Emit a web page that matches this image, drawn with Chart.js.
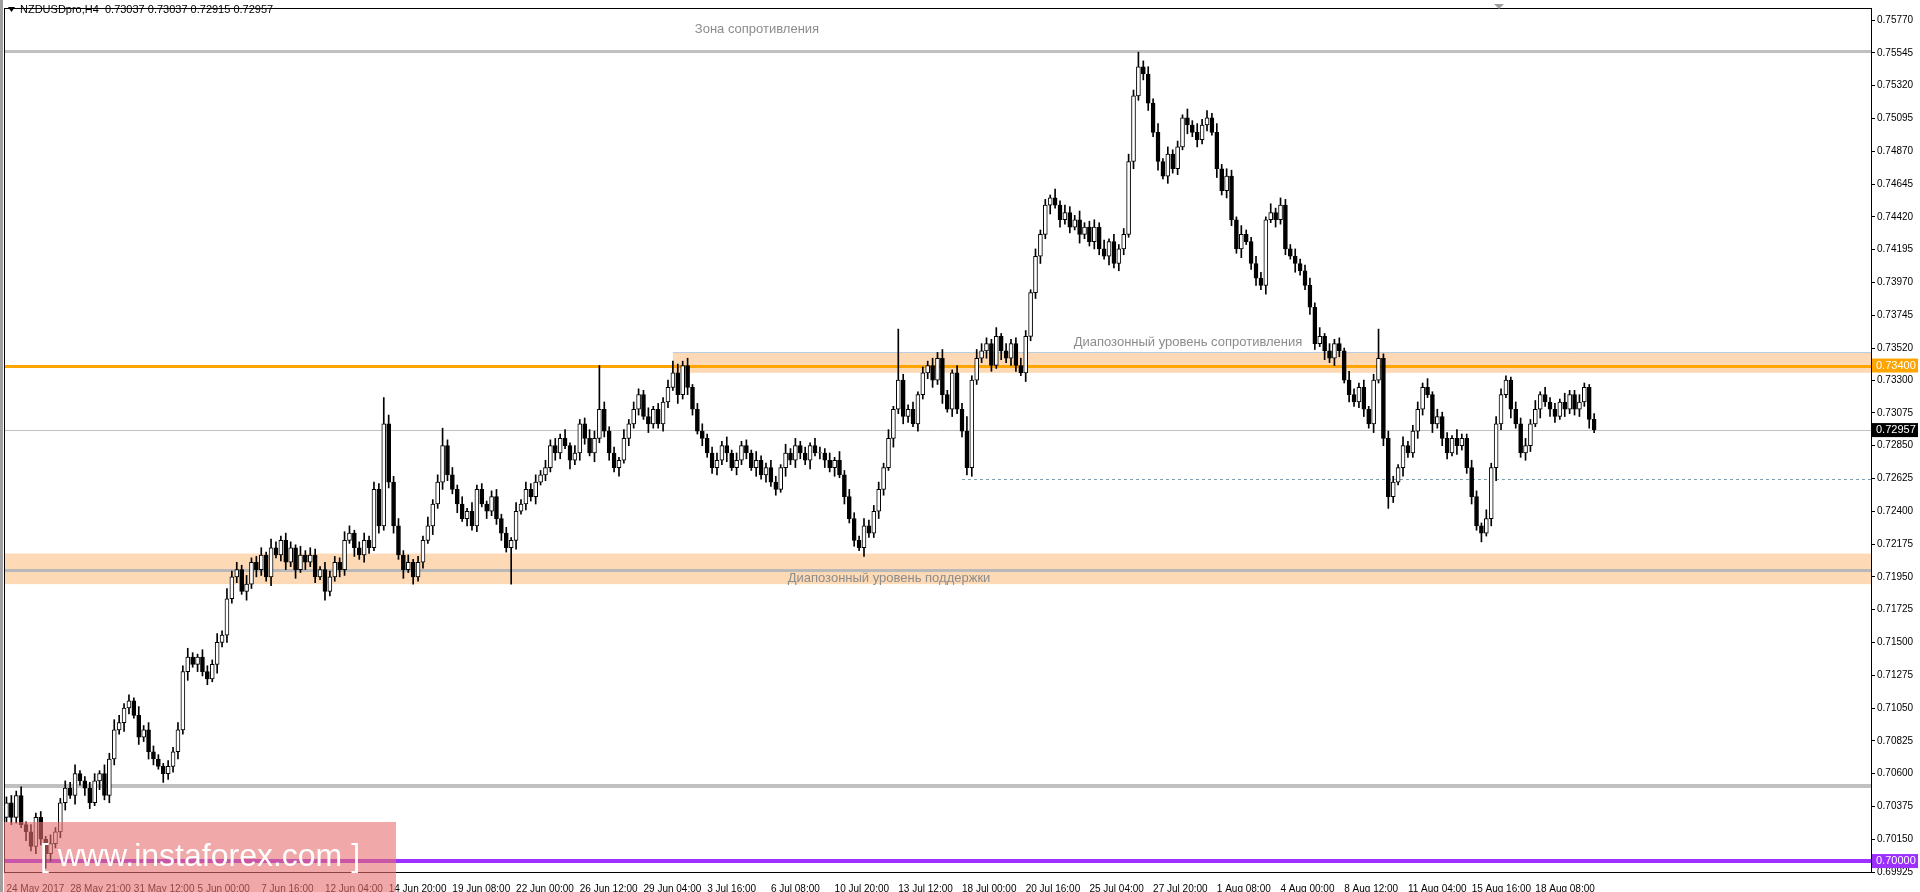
<!DOCTYPE html>
<html>
<head>
<script src="https://cdn.jsdelivr.net/npm/chart.js"></script>
<style> body { margin: 0; background: #fff; } #wrap { width: 1920px; height: 892px; } </style>
</head>
<body>
<div id="wrap"><canvas id="c"></canvas></div>
<script>
// closes in pips (0.0001), opens = previous close
const closes = [
  7040,7030,7045,7025,7020,7010,7030,7015,7005,7012,7020,
  7040,7050,7045,7060,7055,7050,7040,7055,7060,7045,7070,7090,
  7095,7105,7110,7100,7085,7090,7075,7070,7065,7060,7065,
  7075,7090,7130,7140,7135,7140,7130,7125,7135,7150,7155,
  7180,7195,7200,7185,7190,7205,7200,7210,7195,7215,7210,
  7220,7205,7215,7200,7210,7205,7210,7195,7200,7185,7195,
  7205,7200,7220,7225,7215,7210,7220,7215,7255,7230,7300,
  7260,7230,7210,7200,7205,7195,7205,7220,7230,7245,7260,
  7285,7265,7255,7245,7235,7240,7230,7255,7245,7240,7250,
  7235,7225,7215,7220,7240,7245,7255,7250,7260,7265,7270,
  7285,7280,7290,7285,7275,7280,7300,7290,7280,7290,7310,
  7295,7280,7270,7275,7290,7300,7310,7320,7305,7300,7310,
  7300,7315,7325,7335,7320,7340,7325,7310,7295,7290,7280,
  7270,7275,7285,7280,7270,7275,7285,7280,7270,7275,7265,
  7270,7260,7255,7270,7280,7275,7285,7280,7275,7285,7280,
  7280,7275,7270,7275,7265,7250,7235,7220,7215,7230,7225,
  7240,7255,7270,7290,7310,7330,7305,7310,7300,7320,7335,
  7340,7330,7345,7320,7310,7335,7310,7295,7270,7330,7345,
  7350,7355,7340,7360,7350,7345,7355,7340,7335,7360,7390,
  7415,7430,7450,7455,7450,7440,7445,7435,7440,7430,7435,
  7425,7435,7420,7415,7425,7410,7420,7430,7480,7525,7545,
  7540,7520,7500,7480,7470,7485,7475,7490,7510,7505,7500,
  7495,7505,7510,7500,7475,7460,7470,7440,7420,7430,7425,
  7410,7400,7395,7440,7445,7440,7450,7420,7415,7410,7405,
  7395,7380,7355,7360,7350,7345,7355,7350,7330,7320,7315,
  7325,7310,7300,7330,7345,7290,7250,7260,7270,7285,7280,
  7295,7310,7325,7320,7300,7305,7290,7280,7290,7285,7290,
  7270,7250,7230,7225,7235,7270,7300,7320,7330,7310,7300,
  7280,7285,7300,7310,7320,7315,7310,7305,7315,7310,7320,
  7310,7315,7325,7303,7296
];
const firstOpen = 7030;
// wick lengths in pips, base36 chars per candle
const upperWicks = ("45362534263 354623452647 53426354324 35463254363 74536345264 35426354254 4365245354i 64535243635 " +
  "c4535263424 53426354535 4536253465u 53426354362 43586352453 45362534263 35426353425 43526354354 45362z43524 " +
  "35463254a36 54362534542 53426354363 4536253454a 45362534263 64536354263 35426354353 45362534264 3524k354263 " +
  "45362534263 35426354325 45362534263 35324").replace(/ /g, "");
const lowerWicks = ("35426354a53 452635426354 36425354264 45362534263 53426354362 45362534263 35426354253 45362534263 " +
  "54362534253 453p6243524 35426354263 45362534263 35426354253 45362534263 53426354362 45362534263 35426354253 " +
  "45362534563 35426354263 45362534263 35426354253 45362534263 53426354362 45362534263 35426354253 45362584263 " +
  "35426354263 45362594263 35426354253 45362").replace(/ /g, "");
const dateLabels = ["24 May 2017","28 May 21:00","31 May 12:00","5 Jun 00:00","7 Jun 16:00","12 Jun 04:00",
  "14 Jun 20:00","19 Jun 08:00","22 Jun 00:00","26 Jun 12:00","29 Jun 04:00","3 Jul 16:00","6 Jul 08:00",
  "10 Jul 20:00","13 Jul 12:00","18 Jul 00:00","20 Jul 16:00","25 Jul 04:00","27 Jul 20:00","1 Aug 08:00",
  "4 Aug 00:00","8 Aug 12:00","11 Aug 04:00","15 Aug 16:00","18 Aug 08:00"];
const priceTicks = [0.69925,0.70150,0.70375,0.70600,0.70825,0.71050,0.71275,0.71500,0.71725,0.71950,0.72175,
  0.72400,0.72625,0.72850,0.73075,0.73300,0.73520,0.73745,0.73970,0.74195,0.74420,0.74645,0.74870,0.75095,
  0.75320,0.75545,0.75770];
const levels = { resistanceZone: 0.75555, rangeRes: 0.73400, rangeResTop: 0.73490, rangeResBot: 0.73350,
  supportLine: 0.72000, supportTop: 0.72110, supportBot: 0.71900, lowLine: 0.70515, round: 0.70000,
  current: 0.72957, dashed: 0.72620 };
const bandStart = 136, dashStart = 195;

const totalSlots = 381, labelStep = 13;
const labels = [], wicks = [], bodies = [], bodyColors = [];
for (let i = 0; i < totalSlots; i++) {
  const k = Math.floor(i / labelStep);
  labels.push(i % labelStep === 0 && k < dateLabels.length ? dateLabels[k] : "");
  if (i < closes.length) {
    const o = i === 0 ? firstOpen : closes[i - 1], c = closes[i];
    const top = Math.max(o, c), bot = Math.min(o, c);
    const hi = top + parseInt(upperWicks[i], 36), lo = bot - parseInt(lowerWicks[i], 36);
    wicks.push([lo / 10000, hi / 10000]);
    bodies.push([bot / 10000, Math.max(top, bot + 0.25) / 10000]);
    bodyColors.push(c >= o ? '#ffffff' : '#000000');
  } else { wicks.push(null); bodies.push(null); bodyColors.push('#fff'); }
}

const overlay = {
  id: 'overlay',
  beforeDatasetsDraw(chart) {
    const { ctx, chartArea: a, scales: { x, y } } = chart;
    ctx.save();
    const xs = x.getPixelForValue(bandStart);
    ctx.fillStyle = '#fdd9b5';
    ctx.fillRect(xs, y.getPixelForValue(levels.rangeResTop), a.right - xs, y.getPixelForValue(levels.rangeResBot) - y.getPixelForValue(levels.rangeResTop));
    ctx.fillRect(a.left, y.getPixelForValue(levels.supportTop), a.width, y.getPixelForValue(levels.supportBot) - y.getPixelForValue(levels.supportTop));
    const hline = (v, color, w, x0, dash) => {
      ctx.beginPath(); ctx.setLineDash(dash || []); ctx.strokeStyle = color; ctx.lineWidth = w;
      const py = Math.round(y.getPixelForValue(v)) + (w % 2 ? 0.5 : 0);
      ctx.moveTo(x0 === undefined ? a.left : x0, py); ctx.lineTo(a.right, py); ctx.stroke();
    };
    hline(levels.rangeResTop, '#b8cde0', 1, xs);
    hline(levels.resistanceZone, '#c0c0c0', 3);
    hline(levels.supportLine, '#b8b8b8', 3);
    hline(levels.lowLine, '#c0c0c0', 4);
    hline(levels.current, '#c0c0c0', 1);
    hline(levels.dashed, '#7f9fb0', 1, x.getPixelForValue(dashStart), [3, 3]);
    hline(levels.rangeRes, '#ffa500', 3);
    hline(levels.round, '#9b30ff', 4);
    ctx.setLineDash([]);
    ctx.fillStyle = '#8c8c8c'; ctx.font = '13px "Liberation Sans"'; ctx.textAlign = 'center'; ctx.textBaseline = 'middle';
    ctx.fillText('Зона сопротивления', 757, 29);
    ctx.fillText('Диапозонный уровень сопротивления', 1188, 342);
    ctx.fillText('Диапозонный уровень поддержки', 889, 578);
    ctx.restore();
  },
  afterDraw(chart) {
    const { ctx, chartArea: a, scales: { y } } = chart;
    ctx.save();
    ctx.strokeStyle = '#000'; ctx.lineWidth = 1;
    ctx.strokeRect(a.left + 0.5, a.top + 0.5, a.width, a.height);
    ctx.fillStyle = '#a0a0a0'; ctx.fillRect(0, 0, 3, 892);
    const box = (v, bg) => {
      const py = y.getPixelForValue(v);
      ctx.fillStyle = bg; ctx.fillRect(a.right + 1, py - 7, 46, 14);
      ctx.fillStyle = '#fff'; ctx.font = '11px "Liberation Sans"'; ctx.textAlign = 'left'; ctx.textBaseline = 'middle';
      ctx.fillText(v.toFixed(5), a.right + 5, py);
    };
    box(levels.rangeRes, '#ffa500'); box(levels.current, '#000'); box(levels.round, '#9b30ff');
    ctx.fillStyle = '#000'; ctx.font = '11px "Liberation Sans"'; ctx.textAlign = 'left'; ctx.textBaseline = 'middle';
    ctx.fillText('NZDUSDpro,H4  0.73037 0.73037 0.72915 0.72957', 20, 10);
    ctx.beginPath(); ctx.moveTo(8, 7); ctx.lineTo(15, 7); ctx.lineTo(11.5, 12); ctx.fill();
    ctx.fillStyle = '#a0a0a0';
    ctx.beginPath(); ctx.moveTo(1494, 4); ctx.lineTo(1504, 4); ctx.lineTo(1499, 9); ctx.fill();
    ctx.fillStyle = 'rgba(230,110,110,0.6)'; ctx.fillRect(4, 822, 392, 70);
    ctx.fillStyle = '#fff'; ctx.font = '32px "Liberation Sans"'; ctx.textAlign = 'center';
    ctx.fillText('[ www.instaforex.com ]', 200, 857);
    ctx.restore();
  }
};

new Chart(document.getElementById('c'), {
  type: 'bar',
  data: {
    labels: labels,
    datasets: [
      { data: bodies, backgroundColor: bodyColors, borderColor: '#000', borderWidth: 1, borderSkipped: false,
        barThickness: 4, grouped: false, order: 0 },
      { data: wicks, backgroundColor: '#000', barThickness: 1, grouped: false, order: 1 }
    ]
  },
  options: {
    responsive: true, maintainAspectRatio: false, animation: false,
    layout: { padding: { left: 4, top: 4 } },
    plugins: { legend: { display: false }, tooltip: { enabled: false } },
    scales: {
      x: {
        grid: { display: false }, border: { display: false },
        afterFit: s => { s.height = 20; },
        ticks: { autoSkip: false, maxRotation: 0, align: 'start', padding: 3, color: '#000',
          font: { family: 'Liberation Sans', size: 10 }, callback: (v, i) => labels[i] }
      },
      y: {
        position: 'right', min: 0.69925, max: 0.75853,
        afterFit: s => { s.width = 49; },
        afterBuildTicks: s => { s.ticks = priceTicks.map(v => ({ value: v })); },
        grid: { drawOnChartArea: false, tickLength: 4, color: '#000' }, border: { display: false },
        ticks: { padding: 2, color: '#000', font: { family: 'Liberation Sans', size: 10 }, callback: v => v.toFixed(5) }
      }
    }
  },
  plugins: [overlay]
});
</script>
</body>
</html>
